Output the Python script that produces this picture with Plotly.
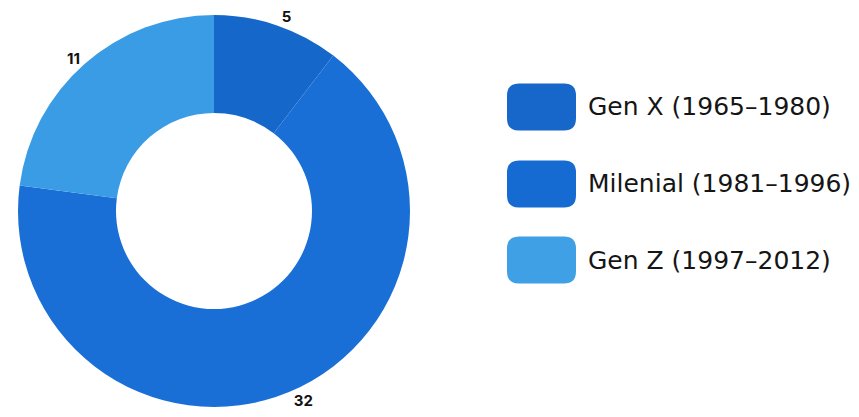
import plotly.graph_objects as go

categories = ["Gen X (1965–1980)", "Milenial (1981–1996)", "Gen Z (1997–2012)"]
values = [5, 32, 11]
slice_colors = ["#1667CA", "#1A6FD6", "#3B9CE6"]
swatch_colors = ["#1767CA", "#156BD2", "#3FA0E6"]

W, H = 859, 417

fig = go.Figure()
fig.add_trace(go.Pie(
    labels=categories,
    values=values,
    sort=False,
    direction="clockwise",
    rotation=0,
    hole=0.5,
    marker=dict(colors=slice_colors, line=dict(width=0)),
    textinfo="value",
    textposition="outside",
    textfont=dict(family="Inter", size=15, weight=700, color="#111111"),
    showlegend=False,
    domain=dict(x=[18 / W, 410 / W], y=[10 / H, 402 / H]),
))

# custom legend: large rounded swatches + labels
sw_x0, sw_x1 = 507, 576
row_centers = [107, 184, 260]
sw_h = 47
rad = 12
shapes = []
annotations = []
for i, (cat, col) in enumerate(zip(categories, swatch_colors)):
    yc = row_centers[i]
    x0, x1 = sw_x0 / W, sw_x1 / W
    y0, y1 = 1 - (yc + sw_h / 2) / H, 1 - (yc - sw_h / 2) / H
    rx, ry = rad / W, rad / H
    path = (f"M {x0+rx},{y0} L {x1-rx},{y0} Q {x1},{y0} {x1},{y0+ry} "
            f"L {x1},{y1-ry} Q {x1},{y1} {x1-rx},{y1} L {x0+rx},{y1} "
            f"Q {x0},{y1} {x0},{y1-ry} L {x0},{y0+ry} Q {x0},{y0} {x0+rx},{y0} Z")
    shapes.append(dict(type="path", xref="paper", yref="paper", path=path,
                       fillcolor=col, line=dict(width=0)))
    annotations.append(dict(x=586 / W, y=1 - yc / H, xref="paper", yref="paper",
                            text=cat, showarrow=False, xanchor="left", yanchor="middle",
                            font=dict(family="DejaVu Sans", size=25, color="#151515")))

fig.update_layout(
    width=W, height=H,
    margin=dict(l=0, r=0, t=0, b=0),
    paper_bgcolor="white",
    plot_bgcolor="white",
    shapes=shapes,
    annotations=annotations,
)

fig.write_html("out.html")
